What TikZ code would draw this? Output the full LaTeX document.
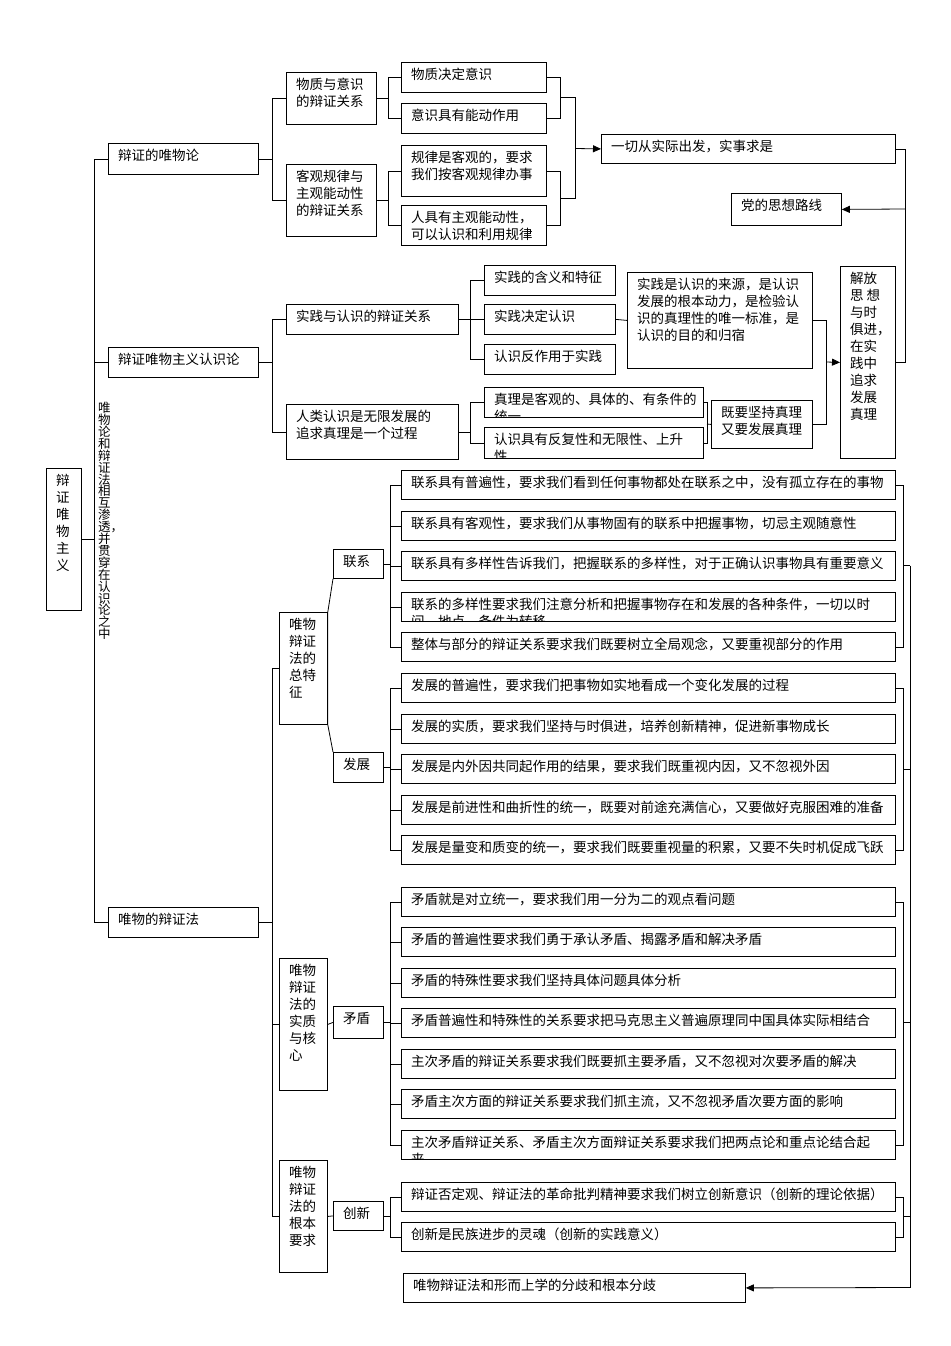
\documentclass[tikz,border=0pt]{standalone}
\usepackage{fontspec}
\setmainfont{Noto Sans CJK SC}
\usetikzlibrary{arrows.meta}
\tikzset{
 boxst/.style={draw, line width=0.8pt, inner sep=0pt, anchor=north west},
 txt/.style={anchor=north west, inner sep=0pt, align=left, font={\fontsize{13.5}{17}\selectfont}},
 ln/.style={line width=0.8pt},
 arr/.style={line width=0.8pt, -{Triangle[length=8pt,width=7pt]}}
}
\newcommand\bx[6]{%
 \node[boxst, minimum width={(#4-#2)*1pt}, minimum height={(#5-#3)*1pt}] (#1) at (#2,#3) {};
 \begin{scope}\clip (#2,#3) rectangle (#4,#5);
 \node[txt] at (#2+10,#3+6) {#6};
 \end{scope}}
\newcommand\itm[3]{\bx{#1}{401}{#2}{895}{#2+29}{#3}}
\begin{document}
\begin{tikzpicture}[x=1pt,y=-1pt]
\useasboundingbox[fill=white] (0,0) rectangle (950,1346);
% level 0/1
\bx{root}{46}{468}{81}{610}{辩\\证\\唯\\物\\主\\义}
\bx{a}{108}{143}{258}{174}{辩证的唯物论}
\bx{b}{108}{347}{258}{377}{辩证唯物主义认识论}
\bx{c}{108}{907}{258}{937}{唯物的辩证法}
\draw[ln] (root.east)--++(13,0);
\draw[ln] (a.west)--++(-14,0)|-(c.west);
\draw[ln] (b.west)--++(-14,0);
\node[anchor=north west, inner sep=0pt, align=left, text width=13pt, font={\fontsize{12.5}{11.9}\selectfont}] (vt) at (98,402) {唯\\物\\论\\和\\辩\\证\\法\\相\\互\\渗\\透\rlap{，}\\并\\贯\\穿\\在\\认\\识\\论\\之\\中};
% dialectical materialism
\bx{a1}{286}{72}{376}{124}{物质与意识\\的辩证关系}
\bx{a2}{286}{164}{376}{236}{客观规律与\\主观能动性\\的辩证关系}
\draw[ln] (a1.west)--++(-14,0)|-(a2.west);
\draw[ln] (a.east)--++(14,0);
\bx{a11}{401}{62}{546}{92}{物质决定意识}
\bx{a12}{401}{103}{546}{133}{意识具有能动作用}
\bx{a21}{401}{145}{546}{196}{规律是客观的，要求\\我们按客观规律办事}
\bx{a22}{401}{205}{546}{245}{人具有主观能动性，\\可以认识和利用规律}
\draw[ln] (a11.west)--++(-13,0)|-(a12.west);
\draw[ln] (a1.east)--++(12,0);
\draw[ln] (a21.west)--++(-13,0)|-(a22.west);
\draw[ln] (a2.east)--++(12,0);
\draw[ln] (a11.east)--++(14,0)|-(a12.east);
\draw[ln] (a21.east)--++(14,0)|-(a22.east);
\coordinate (r1) at (560,97.5);
\coordinate (r2) at (560,198);
\draw[ln] (r1)--(575,97.5)|-(r2);
\bx{d}{601}{134}{895}{163}{一切从实际出发，实事求是}
\bx{e}{731}{193}{841}{225}{党的思想路线}
\bx{f}{840}{266}{895}{458}{解放\\思 想\\与时\\俱进，\\在实\\践中\\追求\\发展\\真理}
\coordinate (j1) at (575,148.5);
\draw[arr] (j1)--(d.west);
\draw[ln] (d.east)--++(10,0)|-(f.east);
\coordinate (j2) at (905,209);
\draw[arr] (j2)--(e.east);
% epistemology
\bx{b1}{286}{304}{458}{334}{实践与认识的辩证关系}
\bx{b2}{286}{404}{458}{459}{人类认识是无限发展的\\追求真理是一个过程}
\draw[ln] (b1.west)--++(-14,0)|-(b2.west);
\draw[ln] (b.east)--++(14,0);
\bx{b11}{484}{265}{615}{295}{实践的含义和特征}
\bx{b12}{484}{304}{615}{334}{实践决定认识}
\bx{b13}{484}{344}{615}{374}{认识反作用于实践}
\draw[ln] (b11.west)--++(-14,0)|-(b13.west);
\draw[ln] (b1.east)--(b12.west);
\bx{g}{627}{272}{812}{368}{实践是认识的来源，是认识\\发展的根本动力，是检验认\\识的真理性的唯一标准，是\\认识的目的和归宿}
\draw[ln] (b12.east)--(g.west);
\bx{b21}{484}{387}{703}{417}{真理是客观的、具体的、有条件的\\统一}
\bx{b22}{484}{427}{703}{458}{认识具有反复性和无限性、上升\\性}
\draw[ln] (b21.west)--++(-14,0)|-(b22.west);
\draw[ln] (b2.east)--++(12,0);
\bx{h}{711}{400}{812}{448}{既要坚持真理\\又要发展真理}
\draw[ln] (b21.east)--++(4,0)|-(b22.east);
\coordinate (j3) at (707,424);
\draw[ln] (j3)--(h.west);
\draw[ln] (g.east)--++(14,0)|-(h.east);
\coordinate (j4) at (826,362);
\draw[arr] (j4)--(f.west);
% materialist dialectics
\bx{p1}{279}{612}{327}{724}{唯物\\辩证\\法的\\总特\\征}
\bx{p2}{279}{958}{327}{1090}{唯物\\辩证\\法的\\实质\\与核\\心}
\bx{p3}{279}{1160}{327}{1272}{唯物\\辩证\\法的\\根本\\要求}
\draw[ln] (c.east)--++(14,0);
\draw[ln] (p1.west)--++(-7,0)|-(p3.west);
\draw[ln] (p2.west)--++(-7,0);
\bx{q1}{333}{549}{383}{578}{联系}
\bx{q2}{333}{752}{383}{782}{发展}
\bx{q3}{333}{1006}{383}{1038}{矛盾}
\bx{q4}{333}{1201}{383}{1230}{创新}
\draw[ln] (q1.south west)--(p1.north east)--(p1.south east)--(q2.north west);
\draw[ln] (p2.east)--(q3.west);
\draw[ln] (p3.east)--(q4.west);
% items
\itm{l1}{470}{联系具有普遍性，要求我们看到任何事物都处在联系之中，没有孤立存在的事物}
\itm{l2}{511}{联系具有客观性，要求我们从事物固有的联系中把握事物，切忌主观随意性}
\itm{l3}{551}{联系具有多样性告诉我们，把握联系的多样性，对于正确认识事物具有重要意义}
\itm{l4}{592}{联系的多样性要求我们注意分析和把握事物存在和发展的各种条件，一切以时\\间、地点、条件为转移}
\itm{l5}{632}{整体与部分的辩证关系要求我们既要树立全局观念，又要重视部分的作用}
\itm{f1}{673}{发展的普遍性，要求我们把事物如实地看成一个变化发展的过程}
\itm{f2}{714}{发展的实质，要求我们坚持与时俱进，培养创新精神，促进新事物成长}
\itm{f3}{754}{发展是内外因共同起作用的结果，要求我们既重视内因，又不忽视外因}
\itm{f4}{795}{发展是前进性和曲折性的统一，既要对前途充满信心，又要做好克服困难的准备}
\itm{f5}{835}{发展是量变和质变的统一，要求我们既要重视量的积累，又要不失时机促成飞跃}
\itm{m1}{887}{矛盾就是对立统一，要求我们用一分为二的观点看问题}
\itm{m2}{927}{矛盾的普遍性要求我们勇于承认矛盾、揭露矛盾和解决矛盾}
\itm{m3}{968}{矛盾的特殊性要求我们坚持具体问题具体分析}
\itm{m4}{1008}{矛盾普遍性和特殊性的关系要求把马克思主义普遍原理同中国具体实际相结合}
\itm{m5}{1049}{主次矛盾的辩证关系要求我们既要抓主要矛盾，又不忽视对次要矛盾的解决}
\itm{m6}{1089}{矛盾主次方面的辩证关系要求我们抓主流，又不忽视矛盾次要方面的影响}
\itm{m7}{1130}{主次矛盾辩证关系、矛盾主次方面辩证关系要求我们把两点论和重点论结合起\\来}
\itm{c1}{1182}{辩证否定观、辩证法的革命批判精神要求我们树立创新意识（创新的理论依据）\\——}
\itm{c2}{1222}{创新是民族进步的灵魂（创新的实践意义）}
\bx{z}{403}{1273}{745}{1302}{唯物辩证法和形而上学的分歧和根本分歧}
% left brackets
\draw[ln] (l1.west)--++(-11,0)|-(l5.west);
\foreach \n in {l2,l3,l4} \draw[ln] (\n.west)--++(-11,0);
\draw[ln] (q1.east)--++(7,0);
\draw[ln] (f1.west)--++(-11,0)|-(f5.west);
\foreach \n in {f2,f3,f4} \draw[ln] (\n.west)--++(-11,0);
\draw[ln] (q2.east)--++(7,0);
\draw[ln] (m1.west)--++(-11,0)|-(m7.west);
\foreach \n in {m2,m3,m4,m5,m6} \draw[ln] (\n.west)--++(-11,0);
\draw[ln] (q3.east)--++(7,0);
\draw[ln] (c1.west)--++(-11,0)|-(c2.west);
\draw[ln] (q4.east)--++(7,0);
% right brackets
\draw[ln] (l1.east)--++(8,0)|-(l5.east);
\draw[ln] (f1.east)--++(8,0)|-(f5.east);
\draw[ln] (m1.east)--++(8,0)|-(m7.east);
\draw[ln] (c1.east)--++(8,0)|-(c2.east);
\coordinate (k1) at (903,565.5);
\coordinate (k2) at (903,769.5);
\coordinate (k3) at (903,1022.5);
\coordinate (k4) at (903,1216.5);
\draw[ln] (k1)--++(7,0);
\draw[ln] (k2)--++(7,0);
\draw[ln] (k3)--++(7,0);
\draw[ln] (k4)--++(7,0);
\coordinate (k5) at (910,1287.5);
\draw[ln] (910,565.5)--(k5);
\draw[arr] (k5)--(z.east);
\end{tikzpicture}
\end{document}
